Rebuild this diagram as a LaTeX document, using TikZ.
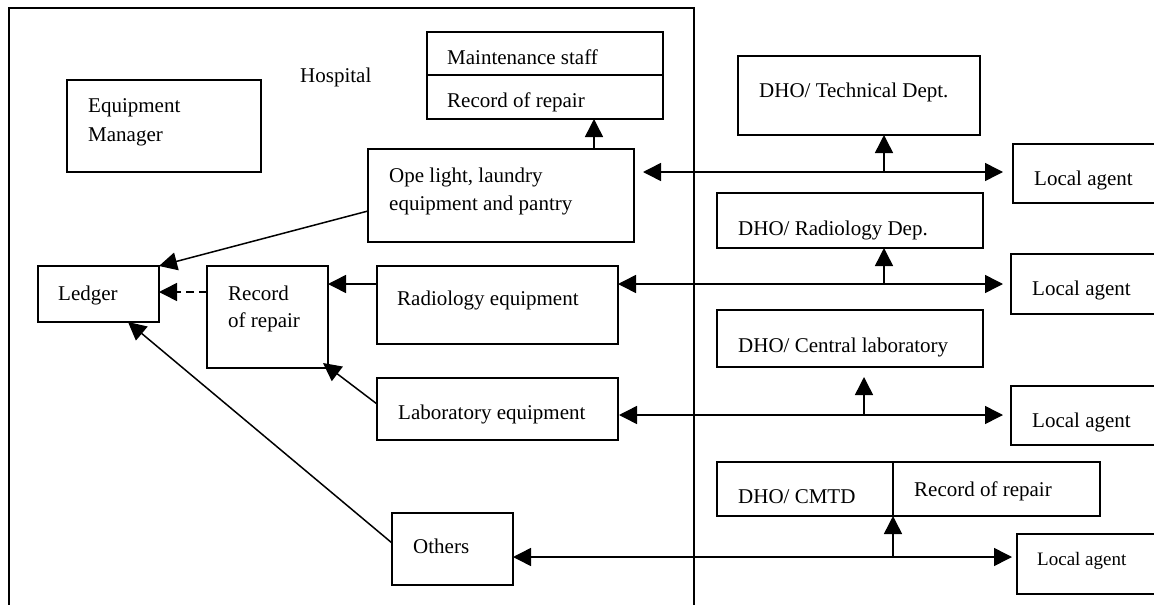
\documentclass[tikz,border=0pt]{standalone}
\usepackage{fontspec}
\setmainfont{Liberation Serif}
\usetikzlibrary{arrows.meta,calc}
\begin{document}
\begin{tikzpicture}[x=1pt,y=-1pt,
  box/.style={draw, line width=1.5pt, inner sep=0pt, outer sep=0pt, anchor=north west},
  txt/.style={inner sep=0pt, anchor=base west, font=\fontsize{21}{24}\selectfont},
  smalltxt/.style={inner sep=0pt, anchor=base west, font=\fontsize{19}{22}\selectfont},
  conn/.style={line width=1.5pt},
  arr/.style={-{Triangle[length=18pt,width=18pt]}},
  arrboth/.style={{Triangle[length=18pt,width=18pt]}-{Triangle[length=18pt,width=18pt]}},
  dashline/.style={dash pattern=on 8pt off 5pt}
]
\useasboundingbox (0,0) rectangle (1154,605);
\fill[white] (0,0) rectangle (1154,605);
\clip (0,0) rectangle (1154,605);

% hospital frame
\draw[line width=1.5pt] (9,606) -- (9,8) -- (694,8) -- (694,606);
\node[txt] (hosp) at (300,82) {Hospital};

% left side boxes
\node[box, minimum width=194pt, minimum height=92pt] (em) at (67,80) {};
\node[txt] (emt1) at (88,112) {Equipment};
\node[txt] (emt2) at (88,141) {Manager};

\node[box, minimum width=236pt, minimum height=87pt] (maint) at (427,32) {};
\draw[line width=1.5pt] (maint.west |- 0,75) -- (maint.east |- 0,75);
\node[txt] (maintt1) at (447,64) {Maintenance staff};
\node[txt] (maintt2) at (447,107) {Record of repair};

\node[box, minimum width=266pt, minimum height=93pt] (ope) at (368,149) {};
\node[txt] (opet1) at (389,182) {Ope light, laundry};
\node[txt] (opet2) at (389,210) {equipment and pantry};

\node[box, minimum width=241pt, minimum height=78pt] (rad) at (377,266) {};
\node[txt] (radt) at (397,305) {Radiology equipment};

\node[box, minimum width=241pt, minimum height=62pt] (lab) at (377,378) {};
\node[txt] (labt) at (398,419) {Laboratory equipment};

\node[box, minimum width=121pt, minimum height=72pt] (oth) at (392,513) {};
\node[txt] (otht) at (413,553) {Others};

\node[box, minimum width=121pt, minimum height=102pt] (rec) at (207,266) {};
\node[txt] (rect1) at (228,300) {Record};
\node[txt] (rect2) at (228,327) {of repair};

\node[box, minimum width=121pt, minimum height=56pt] (led) at (38,266) {};
\node[txt] (ledt) at (58,300) {Ledger};

% right side boxes
\node[box, minimum width=242pt, minimum height=79pt] (tech) at (738,56) {};
\node[txt] (techt) at (759,97) {DHO/ Technical Dept.};

\node[box, minimum width=200pt, minimum height=59pt] (la1) at (1013,144) {};
\node[txt] (la1t) at (1034,185) {Local agent};

\node[box, minimum width=266pt, minimum height=55pt] (drad) at (717,193) {};
\node[txt] (dradt) at (738,235) {DHO/ Radiology Dep.};

\node[box, minimum width=200pt, minimum height=60pt] (la2) at (1011,254) {};
\node[txt] (la2t) at (1032,295) {Local agent};

\node[box, minimum width=266pt, minimum height=57pt] (dcl) at (717,310) {};
\node[txt] (dclt) at (738,352) {DHO/ Central laboratory};

\node[box, minimum width=200pt, minimum height=59pt] (la3) at (1011,386) {};
\node[txt] (la3t) at (1032,427) {Local agent};

\node[box, minimum width=383pt, minimum height=54pt] (cmtd) at (717,462) {};
\draw[line width=1.5pt] (cmtd.north -| 893,0) -- (cmtd.south -| 893,0);
\node[txt] (cmtdt1) at (738,503) {DHO/ CMTD};
\node[txt] (cmtdt2) at (914,496) {Record of repair};

\node[box, minimum width=200pt, minimum height=60pt] (la4) at (1017,534) {};
\node[smalltxt] (la4t) at (1037,565) {Local agent};

% right connectors
\coordinate (j1) at (884,172);
\coordinate (j2) at (884,284);
\coordinate (j3) at (864,415);
\coordinate (j4) at (893,557);

\draw[conn, arrboth, shorten <=9pt, shorten >=10pt] (ope.east |- j1) -- (la1.west |- j1);
\draw[conn, arr] (j1) -- (j1 |- tech.south);

\draw[conn, arrboth, shorten >=8pt] (rad.east |- j2) -- (la2.west |- j2);
\draw[conn, arr] (j2) -- (j2 |- drad.south);

\draw[conn, arrboth, shorten <=1pt, shorten >=8pt] (lab.east |- j3) -- (la3.west |- j3);
\draw[conn, arr, shorten >=10pt] (j3) -- (j3 |- dcl.south);

\draw[conn, arrboth, shorten >=5pt] (oth.east |- j4) -- (la4.west |- j4);
\draw[conn, arr] (j4) -- (j4 |- cmtd.south);

% left connectors
\draw[conn, arr] (ope.north -| 594,0) -- (maint.south -| 594,0);
\draw[conn, arr] (ope.west |- 0,211) -- (led.north east);
\draw[conn, arr] (rad.west |- 0,284) -- (rec.east |- 0,284);
\draw[conn, arr, dashline] (rec.west |- 0,292) -- (led.east |- 0,292);
\draw[conn, arr] (lab.west |- 0,404) -- ($(rec.south east)+(-5,-5)$);
\draw[conn, arr] (oth.west |- 0,543) -- (led.south -| 128,0);
\end{tikzpicture}
\end{document}
